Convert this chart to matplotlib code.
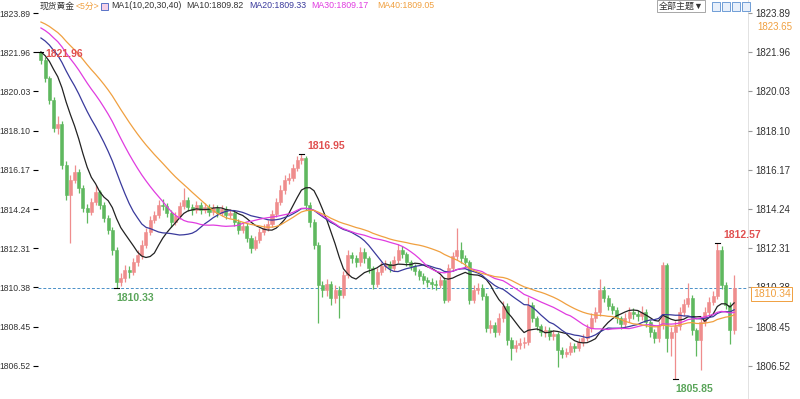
import matplotlib.pyplot as plt
import numpy as np
import pandas as pd

plt.rcParams["font.family"] = ["Liberation Sans", "Noto Sans CJK SC", "DejaVu Sans"]

# 5-minute candles, spot gold
opens = [
    1821.96, 1821.58, 1820.69, 1819.61, 1818.23, 1818.43, 1816.41, 1814.94, 1815.67, 1816.07,
    1815.28, 1814.30, 1814.10, 1814.59, 1815.08, 1814.44, 1813.80, 1813.21, 1812.23, 1810.66,
    1810.85, 1811.24, 1811.15, 1811.64, 1811.98, 1812.48, 1813.11, 1813.70, 1813.95, 1814.44,
    1814.40, 1814.05, 1813.61, 1813.90, 1814.40, 1814.69, 1814.35, 1814.20, 1814.44, 1814.20,
    1814.35, 1814.10, 1814.30, 1814.05, 1814.25, 1813.95, 1814.05, 1813.61, 1813.21, 1813.41,
    1812.82, 1812.33, 1812.72, 1813.11, 1813.31, 1813.51, 1814.00, 1814.59, 1815.18, 1815.67,
    1815.77, 1816.26, 1816.66, 1816.76, 1814.44, 1813.61, 1812.48, 1810.51, 1810.26, 1810.56,
    1809.87, 1810.26, 1810.02, 1811.00, 1811.98, 1811.83, 1811.64, 1812.13, 1811.83, 1811.34,
    1810.56, 1811.15, 1811.44, 1811.54, 1811.34, 1811.74, 1812.23, 1812.03, 1811.64, 1811.44,
    1811.20, 1810.95, 1810.75, 1810.66, 1810.56, 1810.51, 1810.75, 1809.77, 1811.34, 1811.93,
    1812.23, 1811.83, 1811.64, 1809.77, 1810.26, 1810.36, 1809.97, 1808.39, 1808.54, 1808.20,
    1808.89, 1809.47, 1807.80, 1807.41, 1807.56, 1807.65, 1807.70, 1809.52, 1808.89, 1808.49,
    1808.20, 1808.29, 1808.00, 1808.10, 1807.31, 1807.11, 1807.21, 1807.50, 1807.41, 1807.70,
    1807.90, 1808.39, 1808.89, 1809.18, 1810.26, 1809.87, 1809.47, 1809.28, 1808.89, 1808.59,
    1808.89, 1809.18, 1809.08, 1808.98, 1809.18, 1808.69, 1808.20, 1807.90, 1808.54, 1811.49,
    1807.90, 1808.20, 1808.49, 1809.18, 1809.57, 1809.87, 1808.29, 1807.80, 1808.69, 1809.18,
    1809.67, 1809.97, 1812.23, 1810.51, 1809.52, 1808.29,
]
closes = [
    1821.58, 1820.69, 1819.61, 1818.23, 1818.43, 1816.41, 1814.94, 1815.67, 1816.07, 1815.28,
    1814.30, 1814.10, 1814.59, 1815.08, 1814.44, 1813.80, 1813.21, 1812.23, 1810.66, 1810.85,
    1811.24, 1811.15, 1811.64, 1811.98, 1812.48, 1813.11, 1813.70, 1813.95, 1814.44, 1814.40,
    1814.05, 1813.61, 1813.90, 1814.40, 1814.69, 1814.35, 1814.20, 1814.44, 1814.20, 1814.35,
    1814.10, 1814.30, 1814.05, 1814.25, 1813.95, 1814.05, 1813.61, 1813.21, 1813.41, 1812.82,
    1812.33, 1812.72, 1813.11, 1813.31, 1813.51, 1814.00, 1814.59, 1815.18, 1815.67, 1815.77,
    1816.26, 1816.66, 1816.76, 1814.44, 1813.61, 1812.48, 1810.51, 1810.26, 1810.56, 1809.87,
    1810.26, 1810.02, 1811.00, 1811.98, 1811.83, 1811.64, 1812.13, 1811.83, 1811.34, 1810.56,
    1811.15, 1811.44, 1811.54, 1811.34, 1811.74, 1812.23, 1812.03, 1811.64, 1811.44, 1811.20,
    1810.95, 1810.75, 1810.66, 1810.56, 1810.51, 1810.75, 1809.77, 1811.34, 1811.93, 1812.23,
    1811.83, 1811.64, 1809.77, 1810.26, 1810.36, 1809.97, 1808.39, 1808.54, 1808.20, 1808.89,
    1809.47, 1807.80, 1807.41, 1807.56, 1807.65, 1807.70, 1809.52, 1808.89, 1808.49, 1808.20,
    1808.29, 1808.00, 1808.10, 1807.31, 1807.11, 1807.21, 1807.50, 1807.41, 1807.70, 1807.90,
    1808.39, 1808.89, 1809.18, 1810.26, 1809.87, 1809.47, 1809.28, 1808.89, 1808.59, 1808.89,
    1809.18, 1809.08, 1808.98, 1809.18, 1808.69, 1808.20, 1807.90, 1808.54, 1811.49, 1807.90,
    1808.20, 1808.49, 1809.18, 1809.57, 1809.87, 1808.29, 1807.80, 1808.69, 1809.18, 1809.67,
    1809.97, 1812.23, 1810.51, 1809.52, 1808.29, 1810.34,
]
highs = [
    1821.96, 1821.70, 1820.80, 1819.75, 1818.80, 1818.55, 1816.60, 1815.90, 1816.40, 1816.20,
    1815.40, 1814.50, 1814.80, 1815.40, 1815.20, 1814.60, 1813.95, 1813.35, 1812.35, 1811.10,
    1811.50, 1811.45, 1811.85, 1812.20, 1812.70, 1813.30, 1813.90, 1814.15, 1814.70, 1814.75,
    1814.55, 1814.20, 1814.10, 1814.60, 1815.30, 1814.85, 1814.50, 1814.65, 1814.60, 1814.55,
    1814.50, 1814.50, 1814.45, 1814.45, 1814.40, 1814.25, 1814.20, 1813.75, 1813.60, 1813.55,
    1812.95, 1812.90, 1813.30, 1813.50, 1813.70, 1814.20, 1814.80, 1815.40, 1815.90, 1816.00,
    1816.45, 1816.85, 1816.95, 1816.85, 1814.60, 1813.75, 1812.60, 1810.70, 1810.80, 1810.70,
    1810.50, 1810.45, 1811.20, 1812.20, 1812.15, 1812.00, 1812.35, 1812.30, 1811.95, 1811.45,
    1811.35, 1811.65, 1811.75, 1811.70, 1811.95, 1812.50, 1812.40, 1812.15, 1811.75, 1811.55,
    1811.30, 1811.10, 1810.90, 1810.85, 1810.75, 1810.95, 1810.90, 1811.55, 1812.15, 1813.30,
    1812.60, 1812.00, 1811.75, 1810.50, 1810.60, 1810.55, 1810.10, 1808.80, 1808.70, 1809.10,
    1809.70, 1809.60, 1807.95, 1807.80, 1807.90, 1807.95, 1809.90, 1809.65, 1809.00, 1808.60,
    1808.50, 1808.45, 1808.30, 1808.20, 1807.45, 1807.40, 1807.70, 1807.65, 1807.90, 1808.10,
    1808.60, 1809.10, 1809.40, 1810.80, 1810.45, 1810.00, 1809.60, 1809.40, 1809.00, 1809.10,
    1809.40, 1809.35, 1809.25, 1809.45, 1809.30, 1808.80, 1808.35, 1808.75, 1811.65, 1811.60,
    1808.45, 1808.75, 1809.40, 1809.80, 1810.60, 1810.00, 1808.40, 1808.90, 1809.40, 1809.90,
    1810.20, 1812.57, 1812.40, 1810.65, 1809.65, 1811.00,
]
lows = [
    1821.40, 1820.50, 1819.40, 1818.05, 1817.95, 1816.20, 1814.70, 1812.57, 1815.50, 1815.05,
    1814.10, 1813.55, 1813.95, 1814.45, 1814.25, 1813.60, 1813.00, 1812.00, 1810.33, 1810.45,
    1810.65, 1810.85, 1811.00, 1811.45, 1811.80, 1812.30, 1812.95, 1813.55, 1813.80, 1814.20,
    1813.85, 1813.35, 1813.45, 1813.75, 1814.25, 1814.15, 1813.95, 1814.05, 1814.00, 1814.05,
    1813.90, 1813.95, 1813.85, 1813.90, 1813.75, 1813.80, 1813.40, 1813.00, 1813.05, 1812.60,
    1812.10, 1812.20, 1812.55, 1812.95, 1813.15, 1813.35, 1813.85, 1814.45, 1815.00, 1815.45,
    1815.60, 1816.10, 1816.45, 1814.20, 1813.35, 1812.25, 1808.64, 1809.90, 1809.95, 1809.50,
    1809.60, 1808.90, 1809.85, 1810.85, 1811.60, 1811.40, 1811.45, 1811.60, 1811.10, 1810.30,
    1810.40, 1811.00, 1811.25, 1811.15, 1811.20, 1811.60, 1811.85, 1811.45, 1811.25, 1811.00,
    1810.75, 1810.55, 1810.40, 1810.30, 1810.25, 1810.35, 1809.60, 1809.65, 1811.20, 1811.75,
    1811.60, 1811.40, 1809.55, 1809.60, 1810.05, 1809.75, 1808.20, 1808.15, 1807.95, 1808.05,
    1808.70, 1807.55, 1806.80, 1807.20, 1807.35, 1807.40, 1807.55, 1808.70, 1808.30, 1808.00,
    1807.95, 1807.80, 1807.80, 1806.47, 1806.90, 1806.95, 1807.05, 1807.20, 1807.25, 1807.50,
    1807.75, 1808.20, 1808.70, 1809.00, 1809.65, 1809.25, 1809.05, 1808.65, 1808.35, 1808.40,
    1808.70, 1808.85, 1808.75, 1808.80, 1808.45, 1807.95, 1807.65, 1807.70, 1808.35, 1807.20,
    1807.00, 1805.85, 1808.30, 1809.00, 1809.40, 1808.05, 1807.00, 1806.30, 1808.50, 1809.00,
    1809.50, 1809.80, 1810.30, 1809.30, 1807.60, 1808.10,
]
# closes before the first visible candle, only used to warm up the moving averages
prior_closes = [
    1824.53, 1824.43, 1824.38, 1824.33, 1824.28, 1824.33, 1824.23, 1824.28, 1824.23, 1824.28,
    1824.43, 1824.33, 1824.23, 1824.14, 1824.04, 1824.14, 1824.04, 1824.09, 1823.99, 1823.94,
    1823.64, 1823.55, 1823.45, 1823.35, 1823.45, 1823.25, 1823.30, 1823.15, 1823.20, 1823.10,
    1822.56, 1822.36, 1822.17, 1822.07, 1821.87, 1821.97, 1821.77, 1821.68, 1821.72,
]

ma_periods = [10, 20, 30, 40]
ma_colors = ["#222222", "#3a3a9c", "#e03ce0", "#f0a040"]
price_ticks = [1806.52, 1808.45, 1810.38, 1812.31, 1814.24, 1816.17, 1818.10, 1820.03, 1821.96, 1823.89]
last_price = 1810.34

up_color = "#ef8d8d"
down_color = "#5fb85f"

fig = plt.figure(figsize=(8, 3.99), dpi=100)
ax = fig.add_axes([38 / 800, 0, 710 / 800, 1])

n = len(closes)
idx = np.arange(n)
o = np.array(opens)
c = np.array(closes)
h = np.array(highs)
l = np.array(lows)
up = c >= o
colors = np.where(up, up_color, down_color)

ax.vlines(idx, l, h, colors=colors, linewidth=0.9, zorder=2)
body_bottom = np.minimum(o, c)
body_height = np.maximum(np.abs(c - o), 0.04)
ax.bar(idx, body_height, bottom=body_bottom, width=0.72, color=colors,
       edgecolor=colors, linewidth=0.4, zorder=3)

all_closes = pd.Series(prior_closes + closes)
for period, color in zip(ma_periods, ma_colors):
    ma = all_closes.rolling(period).mean().to_numpy()[len(prior_closes):]
    ax.plot(idx, ma, color=color, linewidth=0.9, zorder=4)

ax.axhline(last_price, color="#4a90c8", linestyle=(0, (3, 2)), linewidth=0.7, zorder=1)

ax.set_xlim(-0.7, 168.3)
ax.set_ylim(1804.89, 1824.53)
ax.set_xticks([])
ax.set_yticks(price_ticks)
ax.set_yticklabels([f"{t:.2f}" for t in price_ticks])
ax.tick_params(axis="y", left=False, labelleft=True, right=False, labelright=False,
               labelsize=6.2, labelcolor="#333333", pad=2)
for side in ["top", "left", "bottom"]:
    ax.spines[side].set_visible(False)
ax.spines["right"].set_color("#dddddd")
ax.spines["right"].set_linewidth(0.6)

ax2 = ax.twinx()
ax2.set_ylim(ax.get_ylim())
ax2.set_yticks(price_ticks)
ax2.set_yticklabels([f"{t:.2f}" for t in price_ticks])
ax2.tick_params(axis="y", length=3, color="#999999", labelsize=7,
                labelcolor="#333333", pad=2)
for side in ["top", "left", "bottom", "right"]:
    ax2.spines[side].set_visible(False)

# extreme point markers
marks = [
    (0, 1821.96, "1821.96", "#e05050", 3, 2, "top"),
    (62, 1816.95, "1816.95", "#e05050", 4, 2, "bottom"),
    (18, 1810.33, "1810.33", "#5aa55a", 0, -3, "top"),
    (161, 1812.57, "1812.57", "#e05050", 4, 2, "bottom"),
    (151, 1805.85, "1805.85", "#5aa55a", 0, -3, "top"),
]
for i, price, label, color, dx, dy, va in marks:
    ax.plot([i - 0.6, i + 0.6], [price, price], color="black", linewidth=0.8, zorder=5)
    ax.annotate(label, xy=(i, price), xytext=(dx, dy), textcoords="offset points",
                ha="left", va=va, fontsize=7.5, fontweight="bold", color=color, zorder=6)

# current price box on the right scale, sitting just under its grid line
fig.text(753 / 800, 1 - 294 / 399, "1810.34", ha="left", va="center",
         fontsize=7.5, color="#f0a040",
         bbox=dict(boxstyle="square,pad=0.15", facecolor="white", edgecolor="#f0a040", linewidth=0.7))
fig.text(757 / 800, 1 - 27 / 399, "1823.65", ha="left", va="center", fontsize=7, color="#f0a040")

# header line
header = [
    (40, "现货黄金", "#333333"),
    (76, "<5分>", "#f0a040"),
    (111, "MA1(10,20,30,40)", "#333333"),
    (186, "MA10:1809.82", "#333333"),
    (249, "MA20:1809.33", "#3a3a9c"),
    (311, "MA30:1809.17", "#e03ce0"),
    (377, "MA40:1809.05", "#f0a040"),
]
for x, text, color in header:
    fig.text(x / 800, 1 - 6 / 399, text, ha="left", va="center", fontsize=6.3, color=color)
fig.patches.append(plt.Rectangle((101 / 800, 1 - 10 / 399), 7 / 800, 7 / 399,
                                 transform=fig.transFigure, facecolor="#f4d0e8",
                                 edgecolor="#4060c0", linewidth=0.6))
fig.text(681 / 800, 1 - 6 / 399, "全部主题▼", ha="center", va="center", fontsize=6.5,
         color="#333333",
         bbox=dict(boxstyle="square,pad=0.2", facecolor="white", edgecolor="#999999", linewidth=0.6))
for x in [712, 722, 732, 742]:
    fig.patches.append(plt.Rectangle((x / 800, 1 - 11 / 399), 8 / 800, 9 / 399,
                                     transform=fig.transFigure, facecolor="#e8f0fb",
                                     edgecolor="#5b8fd0", linewidth=0.6))

fig.savefig("out.png", dpi=100, facecolor="white")
